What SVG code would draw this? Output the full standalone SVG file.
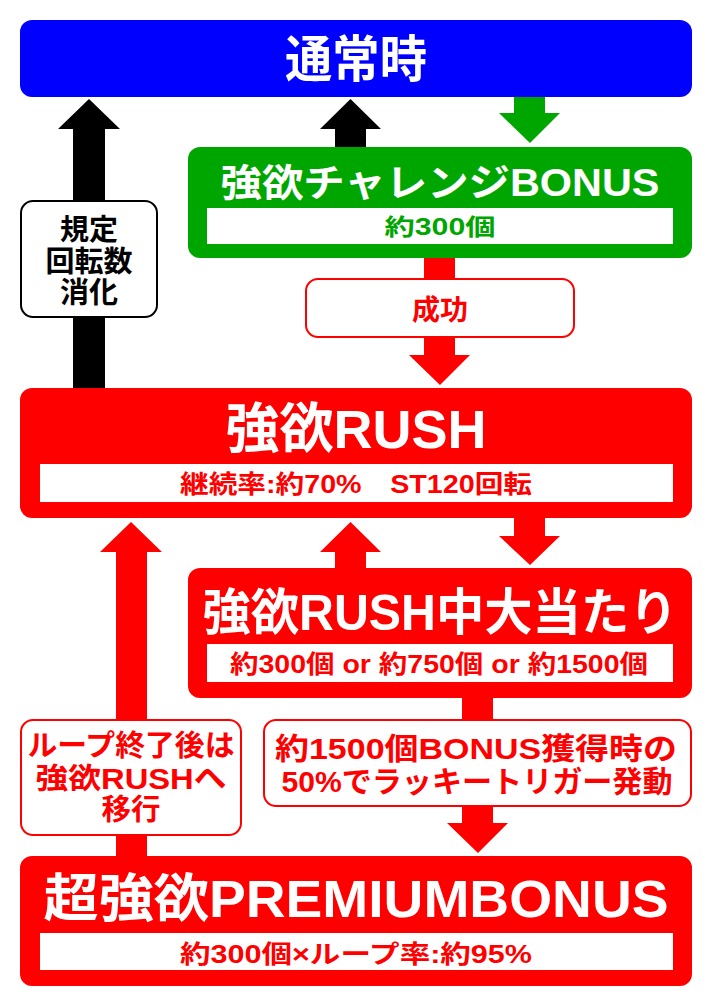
<svg xmlns="http://www.w3.org/2000/svg" width="712" height="1008" viewBox="0 0 712 1008">
<style>
text{font-family:"Liberation Sans","Noto Sans CJK JP",sans-serif;font-weight:bold;text-anchor:middle}
.t{fill:#fff}
.r{fill:#ff0000}
.g{fill:#00a600}
.k{fill:#000}
.blk{fill:#000}
.red{fill:#ff0000}
.grn{fill:#00a600}
.inner{fill:#fff}
.lbl{fill:#fff;stroke-width:2}
</style>
<g id="connectors">
<polygon class="blk" points="89,99 120,129 105,129 105,389 73,389 73,129 58,129"/>
<polygon class="blk" points="350.5,99 381,129 366,129 366,147 335,147 335,129 320,129"/>
<polygon class="grn" points="514,96 545,96 545,113 560,113 530,143 499,113 514,113"/>
<polygon class="red" points="424,257 455,257 455,355 470,355 440,385 409,355 424,355"/>
<polygon class="red" points="131,522 162,552 147,552 147,857 116,857 116,552 100,552"/>
<polygon class="red" points="350.5,522 381,552 366,552 366,569 335,569 335,552 320,552"/>
<polygon class="red" points="514,517 545,517 545,536 560,536 530,565 499,536 514,536"/>
<polygon class="red" points="462,697 493,697 493,823 508,823 478,853 447,823 462,823"/>
</g>
<g id="normal">
<rect x="20" y="20" width="672" height="77" rx="12" fill="#0000ff"/>
<text class="t" x="356" y="77" font-size="50" textLength="142" lengthAdjust="spacingAndGlyphs">通常時</text>
</g>
<g id="challenge">
<rect x="188" y="147" width="504" height="111" rx="12" fill="#00a600"/>
<rect class="inner" x="207" y="208" width="466" height="36"/>
<text class="t" x="440" y="196" font-size="38" textLength="439" lengthAdjust="spacingAndGlyphs">強欲チャレンジBONUS</text>
<text class="g" x="440" y="235" font-size="23" textLength="111" lengthAdjust="spacingAndGlyphs">約300個</text>
</g>
<g id="kitei">
<rect class="lbl" x="21" y="201" width="136" height="116" rx="12" stroke="#000"/>
<text class="k" x="89" y="240" font-size="29">規定</text>
<text class="k" x="89" y="272" font-size="29">回転数</text>
<text class="k" x="89" y="303" font-size="29">消化</text>
</g>
<g id="seikou">
<rect class="lbl" x="306" y="279" width="268" height="58" rx="12" stroke="#ff0000"/>
<text class="r" x="440" y="320" font-size="28">成功</text>
</g>
<g id="rush">
<rect x="20" y="388" width="672" height="130" rx="12" fill="#ff0000"/>
<rect class="inner" x="40" y="464" width="633" height="38"/>
<text class="t" x="356" y="448" font-size="54" textLength="261" lengthAdjust="spacingAndGlyphs">強欲RUSH</text>
<text class="r" x="356" y="493" font-size="25" textLength="352" lengthAdjust="spacingAndGlyphs" xml:space="preserve">継続率:約70%　ST120回転</text>
</g>
<g id="rush-hit">
<rect x="188" y="568" width="504" height="130" rx="12" fill="#ff0000"/>
<rect class="inner" x="207" y="644" width="466" height="38"/>
<text class="t" x="440" y="630" font-size="50" textLength="475" lengthAdjust="spacingAndGlyphs">強欲RUSH中大当たり</text>
<text class="r" x="439" y="673" font-size="25" textLength="418" lengthAdjust="spacingAndGlyphs">約300個 or 約750個 or 約1500個</text>
</g>
<g id="loop-end">
<rect class="lbl" x="21" y="720" width="220" height="115" rx="12" stroke="#ff0000"/>
<text class="r" x="131" y="756" font-size="29" textLength="207" lengthAdjust="spacingAndGlyphs">ループ終了後は</text>
<text class="r" x="131" y="789" font-size="29" textLength="191" lengthAdjust="spacingAndGlyphs">強欲RUSHへ</text>
<text class="r" x="131" y="820" font-size="29" textLength="59" lengthAdjust="spacingAndGlyphs">移行</text>
</g>
<g id="lucky">
<rect class="lbl" x="264" y="720" width="427" height="86" rx="12" stroke="#ff0000"/>
<text class="r" x="476" y="759" font-size="30" textLength="402" lengthAdjust="spacingAndGlyphs">約1500個BONUS獲得時の</text>
<text class="r" x="477" y="792" font-size="30" textLength="391" lengthAdjust="spacingAndGlyphs">50%でラッキートリガー発動</text>
</g>
<g id="premium">
<rect x="20" y="856" width="672" height="130" rx="12" fill="#ff0000"/>
<rect class="inner" x="40" y="933" width="633" height="37"/>
<text class="t" x="356" y="917" font-size="52" textLength="625" lengthAdjust="spacingAndGlyphs">超強欲PREMIUMBONUS</text>
<text class="r" x="356" y="963" font-size="25" textLength="352" lengthAdjust="spacingAndGlyphs">約300個×ループ率:約95%</text>
</g>
</svg>
